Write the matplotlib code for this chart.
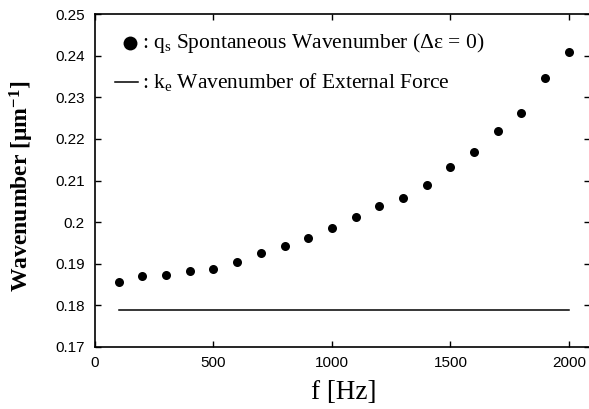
import matplotlib
matplotlib.use("Agg")
import matplotlib.pyplot as plt
from matplotlib.lines import Line2D

# Data
freq = [100, 200, 300, 400, 500, 600, 700, 800, 900, 1000,
        1100, 1200, 1300, 1400, 1500, 1600, 1700, 1800, 1900, 2000]
qs = [0.1856, 0.1869, 0.1873, 0.1881, 0.1887, 0.1904, 0.1926, 0.1942, 0.1962, 0.1986,
      0.2011, 0.2039, 0.2057, 0.2089, 0.2133, 0.2168, 0.2219, 0.2262, 0.2347, 0.2410]
ke_freq = [100, 2000]
ke = [0.1788, 0.1788]
xticks = [0, 500, 1000, 1500, 2000]
xticklabels = ["0", "500", "1000", "1500", "2000"]
yticks = [0.17, 0.18, 0.19, 0.2, 0.21, 0.22, 0.23, 0.24, 0.25]
yticklabels = ["0.17", "0.18", "0.19", "0.2", "0.21", "0.22", "0.23", "0.24", "0.25"]

plt.rcParams['mathtext.fontset'] = 'custom'
plt.rcParams['mathtext.rm'] = 'Liberation Serif'
plt.rcParams['mathtext.it'] = 'Liberation Serif:italic'
plt.rcParams['mathtext.bf'] = 'Liberation Serif:bold'

fig = plt.figure(figsize=(5.89, 4.09), dpi=100)
ax = fig.add_axes([95/589, 1 - 346.7/409, 1 - 95/589 + 0.002, (346.7 - 14.3)/409])

ax.plot(freq, qs, 'o', color='black', markersize=6.5, markeredgewidth=0)
ax.plot(ke_freq, ke, '-', color='black', linewidth=1.1)

ax.set_xlim(0, 2090)
ax.set_ylim(0.17, 0.25)
ax.set_xticks(xticks)
ax.set_xticklabels(xticklabels, family='Liberation Sans', fontsize=11)
ax.set_yticks(yticks)
ax.set_yticklabels(yticklabels, family='Liberation Sans', fontsize=11)
ax.tick_params(direction='in', length=4, width=1, top=True, right=True)
ax.tick_params(axis='y', pad=7.5)
ax.tick_params(axis='x', pad=6.5)
for s in ax.spines.values():
    s.set_linewidth(1.2)
ax.spines['right'].set_visible(False)

ax.set_xlabel('f [Hz]', family='Liberation Serif', fontsize=19.5)
ax.xaxis.set_label_coords(0.502, -0.1)
ax.set_ylabel(r'Wavenumber [μm$^{\mathbf{-1}}$]', family='Liberation Serif',
              fontsize=17, fontweight='bold')
ax.yaxis.set_label_coords(-0.12, 0.4835)

# Legend drawn manually
fig.add_artist(Line2D([130/589], [1 - 43/409], marker='o', color='black',
                      markersize=10, markeredgewidth=0, transform=fig.transFigure))
fig.add_artist(Line2D([115/589, 138/589], [1 - 82/409, 1 - 82/409], color='black',
                      linewidth=1.1, transform=fig.transFigure))
fig.text(142/589, 1 - 43/409, r': q$_\mathrm{s}$ Spontaneous Wavenumber (Δε = 0)',
         family='Liberation Serif', fontsize=15.5, va='center', ha='left')
fig.text(142/589, 1 - 82/409, r': k$_\mathrm{e}$ Wavenumber of External Force',
         family='Liberation Serif', fontsize=15.5, va='center', ha='left')

fig.savefig('out.png', dpi=100)
